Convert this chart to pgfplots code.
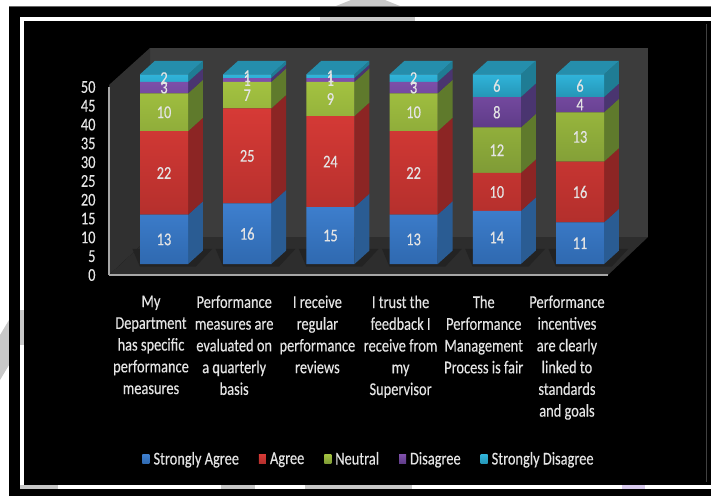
\documentclass[border=0pt]{standalone}
\usepackage{fontspec}
\setmainfont{Carlito}[FakeStretch=0.8,FakeBold=0.25]
\usepackage{pgfplots}
\usepackage{pgfplotstable}
\pgfplotsset{compat=1.18}
% px palette
\definecolor{wall}{HTML}{3C3C3C}
\definecolor{lwall}{HTML}{303030}
\definecolor{floorc}{HTML}{2D2D2D}
\definecolor{shadowc}{HTML}{232323}
\definecolor{txt}{HTML}{E4E4E4}
\definecolor{wm}{HTML}{C8C8C8}
\definecolor{wmp}{HTML}{D9CBEE}
\definecolor{blueT}{HTML}{3E7FCE}\definecolor{blueB}{HTML}{2F69B0}\definecolor{blueS}{HTML}{2A5C93}
\definecolor{redT}{HTML}{D63A36}\definecolor{redB}{HTML}{B32F2C}\definecolor{redS}{HTML}{8C2524}
\definecolor{greenT}{HTML}{A3C240}\definecolor{greenB}{HTML}{7F9B36}\definecolor{greenS}{HTML}{5F7A2C}
\definecolor{purpT}{HTML}{7F50AB}\definecolor{purpB}{HTML}{5F3C88}\definecolor{purpS}{HTML}{4A3570}
\definecolor{cyanT}{HTML}{30B4DA}\definecolor{cyanB}{HTML}{2595B6}\definecolor{cyanS}{HTML}{1F7C94}
\definecolor{topc}{HTML}{258EAC}
\pgfplotstableread{
id sa a n d sd
0 13 22 10 3 2
1 16 25 7 1 1
2 15 24 9 1 1
3 13 22 10 3 2
4 14 10 12 8 6
5 11 16 13 4 6
}\likert
\pgfplotsset{
  full/.style={scale only axis,width=711pt,height=496pt,at={(0pt,0pt)},anchor=south west,
    axis lines=none,xmin=-1.9712,xmax=6.5745,ymin=-61.11,ymax=69.58,clip=true},
  pix/.style={scale only axis,width=711pt,height=496pt,at={(0pt,0pt)},anchor=south west,
    axis lines=none,xmin=0,xmax=711,ymin=0,ymax=496,y dir=reverse,clip=true},
}
\newcommand\poly[2]{\addplot[draw=none,fill=#1] coordinates {#2};}
\newcommand\sideface[4]{%
  \pgfmathsetmacro\xa{#1+0.2885}\pgfmathsetmacro\xb{#1+0.4685}%
  \pgfmathsetmacro\lb{#2+3.57}\pgfmathsetmacro\hb{#3+3.57}%
  \edef\temp{\noexpand\addplot[draw=none,fill=#4] coordinates {(\xa,#2)(\xb,\lb)(\xb,\hb)(\xa,#3)};}\temp}
\newcommand\barbody[6]{%
  \pgfmathsetmacro\ca{#2}\pgfmathsetmacro\cb{#2+#3}\pgfmathsetmacro\cc{#2+#3+#4}%
  \pgfmathsetmacro\cd{#2+#3+#4+#5}\pgfmathsetmacro\ce{#2+#3+#4+#5+#6}%
  % floor shadow
  \pgfmathsetmacro\sa{#1-0.38}\pgfmathsetmacro\sb{#1+0.58}\pgfmathsetmacro\sc{#1+0.38}\pgfmathsetmacro\sd{#1-0.29}%
  \edef\temp{\noexpand\addplot[draw=none,fill=shadowc] coordinates {(\sd,-0.7)(\sc,-0.7)(\sb,4)(\sa,4)};}\temp
  \sideface{#1}{0}{\ca}{blueS}%
  \sideface{#1}{\ca}{\cb}{redS}%
  \sideface{#1}{\cb}{\cc}{greenS}%
  \sideface{#1}{\cc}{\cd}{purpS}%
  \sideface{#1}{\cd}{\ce}{cyanS}%
  \pgfmathsetmacro\ta{#1-0.2885}\pgfmathsetmacro\tb{#1+0.2885}\pgfmathsetmacro\tc{#1+0.4685}\pgfmathsetmacro\td{#1-0.1085}%
  \pgfmathsetmacro\te{\ce+3.57}%
  \edef\temp{\noexpand\addplot[draw=none,fill=topc] coordinates {(\ta,\ce)(\tb,\ce)(\tc,\te)(\td,\te)};}\temp
}
\begin{document}
\begin{tikzpicture}
% --- frame and the chart's walls, in picture pixels ---
\begin{axis}[pix]
\poly{white}{(0,0)(711,0)(711,496)(0,496)}
\poly{wm}{(336,6)(400,6)(385,0)(351,0)}
\poly{wm}{(0,335)(9,320)(9,365)(0,380)}
\addplot[draw=black!60,line width=0.6pt] coordinates {(9,496)(9,6.5)(711,6.5)};
\poly{black}{(9,7)(711,7)(711,496)(9,496)}
\poly{white}{(20,17)(711,17)(711,489)(20,489)}
\poly{wm}{(320,17)(415,17)(415,21)(320,21)}
\poly{wm}{(20,310)(24,310)(24,345)(20,345)}
\poly{wm}{(20,485)(58,485)(58,489)(20,489)}
\poly{wm}{(221,485)(255,485)(255,489)(221,489)}
\poly{wm}{(305,485)(412,485)(412,489)(305,489)}
\poly{wmp}{(622,485)(645,485)(645,489)(622,489)}
\poly{black}{(24,21)(711,21)(711,485)(24,485)}
\addplot[draw=black!75,line width=0.8pt] coordinates {(706,24)(706,482)};
\poly{wall}{(150,48)(648,48)(648,237)(150,237)}
\poly{lwall}{(109,85)(150,48)(150,237)(109,275)}
\poly{floorc}{(109,275)(150,237)(648,237)(608,275)}
\end{axis}
% --- side and top faces of the bars ---
\begin{axis}[full]
\barbody{0}{13}{22}{10}{3}{2}
\barbody{1}{16}{25}{7}{1}{1}
\barbody{2}{15}{24}{9}{1}{1}
\barbody{3}{13}{22}{10}{3}{2}
\barbody{4}{14}{10}{12}{8}{6}
\barbody{5}{11}{16}{13}{4}{6}
\end{axis}
% --- front faces and legend ---
\begin{axis}[full,ybar stacked,bar width=48pt,
  legend columns=5,area legend,
  legend image code/.code={\draw[#1,draw=none] (0pt,-4.5pt) rectangle (7pt,4.5pt);},
  legend style={at={(0.5190,0.0746)},anchor=center,draw=none,fill=none,text=txt,
    font=\fontsize{18}{18}\selectfont,inner sep=0pt,
    /tikz/every odd column/.append style={column sep=2pt},
    /tikz/every even column/.append style={column sep=18pt}}]
\addplot[draw=none,top color=blueT,bottom color=blueB] table[x=id,y=sa]{\likert};
\addplot[draw=none,top color=redT,bottom color=redB] table[x=id,y=a]{\likert};
\addplot[draw=none,top color=greenT,bottom color=greenB] table[x=id,y=n]{\likert};
\addplot[draw=none,top color=purpT,bottom color=purpB] table[x=id,y=d]{\likert};
\addplot[draw=none,top color=cyanT,bottom color=cyanB] table[x=id,y=sd]{\likert};
\legend{Strongly Agree,Agree,Neutral,Disagree,Strongly Disagree}
\end{axis}
% --- value labels, centred in the segments ---
\begin{axis}[full]
\addplot[only marks,mark=none,point meta=explicit symbolic,nodes near coords,
  nodes near coords style={anchor=center,text=txt,inner sep=0pt,font=\fontsize{18}{20}\selectfont}]
 coordinates {
 (0,6.5)[13] (0,24)[22] (0,40)[10] (0,46.5)[3] (0,49)[2]
 (1,8)[16] (1,28.5)[25] (1,44.5)[7] (1,48.5)[1] (1,49.5)[1]
 (2,7.5)[15] (2,27)[24] (2,43.5)[9] (2,48.5)[1] (2,49.5)[1]
 (3,6.5)[13] (3,24)[22] (3,40)[10] (3,46.5)[3] (3,49)[2]
 (4,7)[14] (4,19)[10] (4,30)[12] (4,40)[8] (4,47)[6]
 (5,5.5)[11] (5,19)[16] (5,33.5)[13] (5,42)[4] (5,47)[6]
 };
\end{axis}
% --- the value axis and the category labels ---
\begin{axis}[scale only axis,width=499pt,height=188pt,at={(109pt,221pt)},anchor=south west,
  xmin=-0.661,xmax=5.337,ymin=0,ymax=50,
  axis lines=left,axis line style={-,draw=black!35,line width=1.2pt},
  ytick distance=5,major tick length=0pt,
  /pgf/number format/assume math mode=true,
  yticklabel style={text=txt,font=\fontsize{18}{20}\selectfont,xshift=-10pt},
  xtick={0,1,2,3,4,5},
  xticklabels={{My\\Department\\has specific\\performance\\measures},
    {Performance\\measures are\\evaluated on\\a quarterly\\basis},
    {I receive\\regular\\performance\\reviews},
    {I trust the\\feedback I\\receive from\\my\\Supervisor},
    {The\\Performance\\Management\\Process is fair},
    {Performance\\incentives\\are clearly\\linked to\\standards\\and goals}},
  xticklabel style={align=center,text=txt,font=\fontsize{18}{21.75}\selectfont,
    anchor=north,xshift=-13pt,yshift=-17pt}]
\addplot[draw=none,forget plot] coordinates {(0,0)(5,50)};
\end{axis}
\end{tikzpicture}
\end{document}
